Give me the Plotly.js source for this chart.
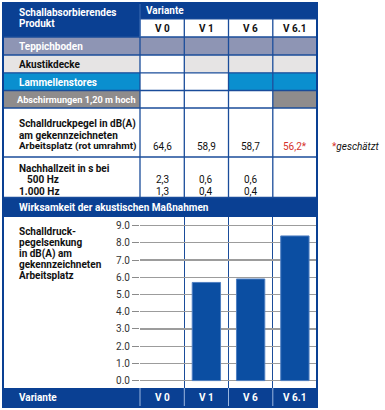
<!DOCTYPE html>
<html>
<head>
<meta charset="utf-8">
<script src="https://cdn.plot.ly/plotly-3.0.1.min.js"></script>
<style>html,body{margin:0;padding:0;background:#fff;}#chart{width:385px;height:410px;}</style>
</head>
<body>
<div id="chart"></div>
<script>
// ---- data ----
const variants = ["V 0", "V 1", "V 6", "V 6.1"];
const products = ["Teppichboden", "Akustikdecke", "Lammellenstores", "Abschirmungen 1,20 m hoch"];
const productColors = ["#8e95b4", "#e6e4e4", "#0a8fcf", "#8f8c8c"];
const productTextColors = ["#ffffff", "#111111", "#ffffff", "#ffffff"];
// which variant uses which product (rows = products, cols = variants)
const productUse = [
  [1, 1, 1, 1],
  [0, 1, 1, 1],
  [0, 0, 1, 1],
  [0, 0, 0, 1]
];
const soundLevel = ["64,6", "58,9", "58,7", "56,2*"];
const soundLevelColors = ["#111111", "#111111", "#111111", "#d6332b"];
const reverb500 = ["2,3", "0,6", "0,6", ""];
const reverb1000 = ["1,3", "0,4", "0,4", ""];
const reduction = [null, 5.7, 5.9, 8.4];
const yTicks = [0, 1, 2, 3, 4, 5, 6, 7, 8, 9];
const yTickText = ["0.0", "1.0", "2.0", "3.0", "4.0", "5.0", "6.0", "7.0", "8.0", "9.0"];

// ---- geometry helpers (layout only) ----
const W = 385, H = 410;
const px = x => x / W;
const py = y => 1 - y / H;
const BLUE = "#0a4093";
const LINE = "#1a4c9a";
const FONT = "Roboto, 'Open Sans', sans-serif";
const SIZE = 10;
const colEdges = [3, 140, 184.3, 228.5, 272.8, 317];
const rowEdges = [37, 55, 72.8, 90.5, 108];

const shapes = [];
const annotations = [];
function rect(x0, y0, x1, y1, fill, layer) {
  shapes.push({type: "rect", xref: "paper", yref: "paper", x0: px(x0), x1: px(x1), y0: py(y1), y1: py(y0),
    fillcolor: fill, line: {width: 0}, layer: layer || "below"});
}
function hline(x0, x1, y, color, w) {
  shapes.push({type: "line", xref: "paper", yref: "paper", x0: px(x0), x1: px(x1), y0: py(y), y1: py(y),
    line: {color: color, width: w}, layer: "above"});
}
function vline(x, y0, y1, color, w) {
  shapes.push({type: "line", xref: "paper", yref: "paper", x0: px(x), x1: px(x), y0: py(y0), y1: py(y1),
    line: {color: color, width: w}, layer: "above"});
}
function label(text, x, y, opts) {
  opts = opts || {};
  annotations.push({text: text, xref: "paper", yref: "paper", x: px(x), y: py(y),
    xanchor: opts.anchor || "left", yanchor: "middle", showarrow: false,
    font: {family: FONT, size: opts.size || SIZE, color: opts.color || "#111111", weight: opts.weight || 700,
      style: opts.style || "normal"}});
}
function colText(text, i, y, opts) {
  opts = opts || {};
  annotations.push({text: text, xref: "x", yref: "paper", x: variants[i], y: py(y),
    xanchor: "center", yanchor: "middle", showarrow: false,
    font: {family: FONT, size: opts.size || SIZE, color: opts.color || "#111111", weight: opts.weight || 400}});
}

// header
rect(3, 3, 140, 37, BLUE);
rect(140, 3, 317, 19, BLUE);
label("Schallabsorbierendes", 17, 12.3, {color: "#fff"});
label("Produkt", 17, 23.3, {color: "#fff"});
label("Variante", 144, 10.5, {color: "#fff"});
variants.forEach((v, i) => colText(v, i, 28.3, {weight: 700}));

// product rows
products.forEach((p, r) => {
  const y0 = rowEdges[r], y1 = rowEdges[r + 1];
  rect(3, y0, 140, y1, productColors[r]);
  productUse[r].forEach((u, c) => { if (u) rect(colEdges[c + 1], y0, colEdges[c + 2], y1, productColors[r]); });
  const long = p.length > 20;
  label(p, long ? 15 : 17, (y0 + y1) / 2 + 0.5, {color: productTextColors[r], size: long ? 9.2 : SIZE});
});

// sound level row
label("Schalldruckpegel in dB(A)", 17, 124);
label("am gekennzeichneten", 17, 135.3);
label("Arbeitsplatz (rot umrahmt)", 17, 146.3, {size: 9.8});
soundLevel.forEach((s, i) => colText(s, i, 146.3, {color: soundLevelColors[i]}));
annotations.push({text: "<span style='color:#d6332b'>*</span><i>geschätzt</i>", xref: "paper", yref: "paper",
  x: px(330), y: py(146), xanchor: "left", yanchor: "middle", showarrow: false,
  font: {family: FONT, size: SIZE, color: "#111111"}});

// reverb rows
label("Nachhallzeit in s bei", 17, 168.5);
label("500 Hz", 25, 180);
label("1.000 Hz", 17, 191);
reverb500.forEach((s, i) => colText(s, i, 180));
reverb1000.forEach((s, i) => colText(s, i, 191));

// effectiveness band
rect(3, 197.5, 317, 217, BLUE);
label("Wirksamkeit der akustischen Maßnahmen", 17, 207.5, {color: "#fff"});

// chart label
["Schalldruck-", "pegelsenkung", "in dB(A) am", "gekennzeichneten", "Arbeitsplatz"].forEach((t, i) =>
  label(t, 17, 231.5 + i * 11.1));

// footer
rect(3, 388, 317, 407, BLUE);
label("Variante", 17, 397.5, {color: "#fff"});
variants.forEach((v, i) => colText(v, i, 397.5, {weight: 700, color: "#fff"}));
[140, 184.3, 228.5, 272.8].forEach(x => vline(x, 388, 407, "#9bb6df", 1));

// table grid lines
[37, 55, 72.8, 90.5, 108, 157, 197.5].forEach(y => hline(3, 317, y, LINE, 1.3));
hline(140, 317, 19, LINE, 1);
[140, 184.3, 228.5, 272.8].forEach(x => vline(x, 19, 197.5, LINE, 1.3));
vline(140, 3, 37, "#3d6cb3", 1);
// outer border
shapes.push({type: "rect", xref: "paper", yref: "paper", x0: px(3), x1: px(317), y0: py(407), y1: py(3),
  line: {color: BLUE, width: 2}, fillcolor: "rgba(0,0,0,0)", layer: "above"});

const trace = {
  type: "bar", x: variants, y: reduction,
  marker: {color: "#0b4ea2", line: {color: "#4f7fc2", width: 1}},
  hoverinfo: "skip"
};

const layout = {
  width: W, height: H,
  margin: {l: 0, r: 0, t: 0, b: 0},
  paper_bgcolor: "#ffffff", plot_bgcolor: "#ffffff",
  showlegend: false,
  bargap: 0.36,
  xaxis: {
    domain: [px(140), px(317)], type: "category", categoryarray: variants, categoryorder: "array",
    range: [-0.5, 3.5], tickson: "boundaries", showgrid: true, gridcolor: LINE, gridwidth: 1.3,
    showticklabels: false, ticks: "", zeroline: false, showline: false, fixedrange: true
  },
  yaxis: {
    domain: [py(388), py(217)], range: [-0.43, 9.5],
    tickvals: yTicks, ticktext: yTickText,
    ticks: "outside", ticklen: 7, tickcolor: "#8a8a8a", tickwidth: 1,
    showgrid: true, gridcolor: "#9c9c9c", gridwidth: 1.2, zeroline: false, showline: false,
    tickfont: {family: FONT, size: SIZE, color: "#333333"}, fixedrange: true
  },
  shapes: shapes,
  annotations: annotations
};

Plotly.newPlot("chart", [trace], layout, {displayModeBar: false, staticPlot: true});
</script>
</body>
</html>
